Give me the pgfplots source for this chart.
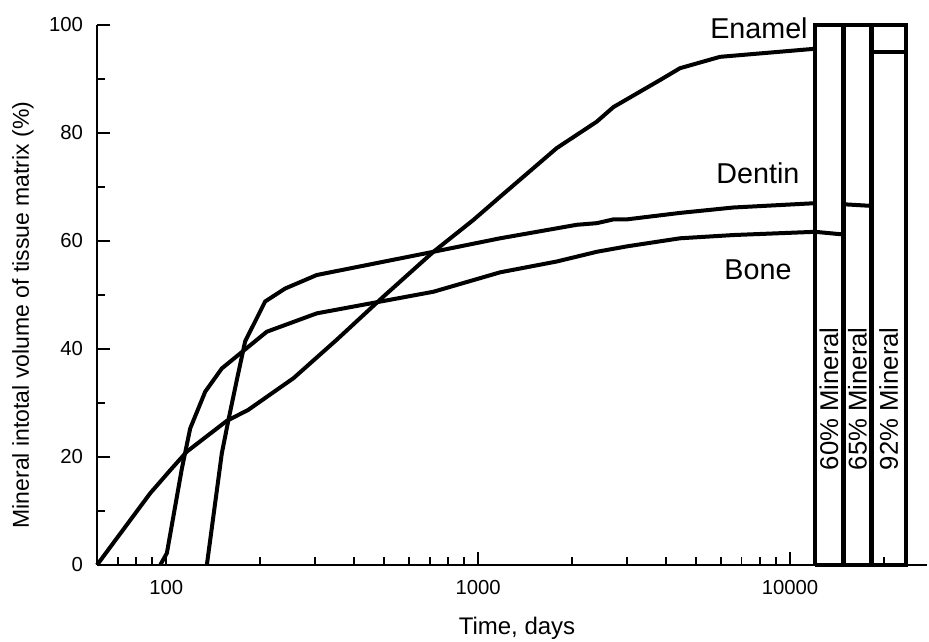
\documentclass[border=0pt]{standalone}
\usepackage{fontspec}
\setmainfont{Liberation Sans}
\usepackage{pgfplots}
\pgfplotsset{compat=1.18}
\begin{document}
\begin{tikzpicture}
\begin{axis}[
  scale only axis, width=415pt, height=270pt,
  xmode=log, xmin=60, xmax=27500, ymin=0, ymax=100,
  axis x line=bottom, axis y line=left,
  axis line style={-, line width=1.2pt, black},
  tick align=inside,
  xtick={100,1000,10000}, xticklabels={100,1000,10000},
  minor xtick={70,80,90,200,300,400,500,600,700,800,900,2000,3000,4000,5000,6000,7000,8000,9000,20000},
  ytick={0,20,40,60,80,100}, minor ytick={10,30,50,70,90},
  major tick length=6.5pt, minor tick length=4pt,
  every tick/.style={black, line width=0.8pt},
  tick label style={font=\fontsize{10.15}{12}\selectfont},
  /pgf/number format/assume math mode=true,
  xticklabel style={yshift=-4pt},
  yticklabel style={xshift=-3.5pt},
  clip=false,
]
% Enamel
\addplot[black, line width=2pt, line join=round] coordinates {
(60,0)(88.9,13.3)(104.3,17.9)(116.5,21.0)(156.5,26.7)(183,28.7)(256,34.6)(352,41.7)(497,49.7)(719,58.0)(966,63.9)(1177,68.2)(1787,77.2)(2402,82.1)(2716,84.8)(3831,89.8)(4441,92.0)(5965,94.1)(12030,95.6)};
% Dentin
\addplot[black, line width=2pt, line join=round] coordinates {
(135,0)(150.8,20.7)(158.4,26.9)(168.5,34.3)(179.1,41.4)(207.6,48.8)(240.7,51.2)(304,53.7)(719,58.0)(1177,60.5)(2072,63.0)(2402,63.3)(2716,64.0)(2997,64.0)(4441,65.2)(6580,66.2)(12030,67.0)};
% Bone
\addplot[black, line width=2pt, line join=round] coordinates {
(95.7,0)(100.5,2.2)(112.3,17.9)(119.4,25.3)(133.4,32.1)(150.8,36.4)(210.2,43.2)(304,46.6)(719,50.6)(1177,54.2)(1787,56.2)(2402,58.0)(2997,59.0)(4441,60.5)(6580,61.1)(12030,61.7)};
% bars
\addplot[black, line width=2.2pt, line join=miter] coordinates {(12030,0)(12030,100)(23550,100)(23550,0)(12030,0)};
\addplot[black, line width=2.2pt] coordinates {(14860,0)(14860,100)};
\addplot[black, line width=2.2pt] coordinates {(18240,0)(18240,100)};
% levels in bars
\addplot[black, line width=2pt] coordinates {(12030,61.7)(14860,61.2)};
\addplot[black, line width=2pt] coordinates {(14860,66.8)(18240,66.5)};
\addplot[black, line width=2pt] coordinates {(18240,95.0)(23550,95.0)};
% labels
\node[inner sep=0, font=\fontsize{14.35}{16}\selectfont] at (axis cs:7955,99.4) {Enamel};
\node[inner sep=0, font=\fontsize{14.35}{16}\selectfont] at (axis cs:7896,72.6) {Dentin};
\node[inner sep=0, font=\fontsize{14.35}{16}\selectfont] at (axis cs:7896,54.6) {Bone};
\node[inner sep=0, rotate=90, font=\fontsize{12.85}{14}\selectfont] at (axis cs:13340,30.8) {60\% Mineral};
\node[inner sep=0, rotate=90, font=\fontsize{12.85}{14}\selectfont] at (axis cs:16450,30.8) {65\% Mineral};
\node[inner sep=0, rotate=90, font=\fontsize{12.85}{14}\selectfont] at (axis cs:20740,30.8) {92\% Mineral};
\node[inner sep=0, rotate=90, font=\fontsize{11.5}{13}\selectfont] at (rel axis cs:-0.0892,0.463) {Mineral intotal volume of tissue matrix (\%)};
\node[inner sep=0, anchor=base, font=\fontsize{12}{14}\selectfont] at (rel axis cs:0.506,-0.1278) {Time, days};
\coordinate (bbsw) at (rel axis cs:-0.11687,-0.14074);
\coordinate (bbne) at (rel axis cs:1.00241,1.04630);
\end{axis}
\pgfresetboundingbox
\path (bbsw) rectangle (bbne);
\end{tikzpicture}
\end{document}
